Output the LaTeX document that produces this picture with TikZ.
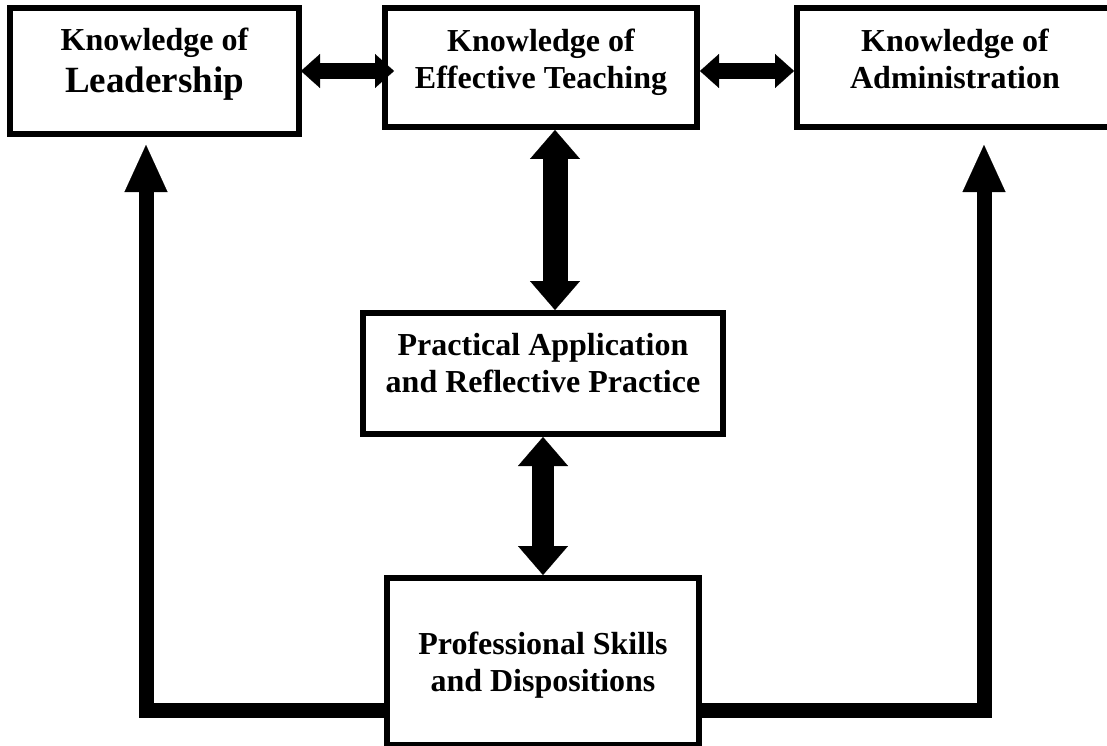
\documentclass[tikz,border=0pt]{standalone}
\usepackage{fontspec}
\setmainfont{Liberation Serif}
\usepackage{tikz}
\usetikzlibrary{arrows.meta}

\begin{document}
\begin{tikzpicture}[x=1pt,y=1pt,yscale=-1,xscale=1,
  box/.style={draw,line width=6pt,align=center,inner sep=0pt,
    font=\bfseries\fontsize{32}{37}\selectfont},
  flatarrow/.style={line width=16pt,
    {Triangle[width=34pt,length=19pt,line width=0.1pt]}-{Triangle[width=34pt,length=19pt,line width=0.1pt]}},
  tallarrow/.style={line width=#1,
    {Triangle[width=50pt,length=29pt,line width=0.1pt]}-{Triangle[width=50pt,length=29pt,line width=0.1pt]}},
  sideline/.style={line width=15pt,line join=miter,
    -{Triangle[width=43pt,length=47pt,line width=0.1pt]}}]
\useasboundingbox (0,0) rectangle (1107,746);
% boxes
\node [box,minimum width=289pt,minimum height=126pt,text depth=22pt] (lead) at (154.5,71) {Knowledge of\\[5pt]{\fontsize{37}{42}\selectfont Leadership}};
\node [box,minimum width=312pt,minimum height=119pt,text depth=18pt] (teach) at (541,67.5) {Knowledge of\\Effective Teaching};
\node [box,minimum width=316pt,minimum height=119pt,text depth=18pt] (admin) at (955,67.5) {Knowledge of\\Administration};
\node [box,minimum width=360pt,minimum height=121pt,text depth=22pt] (pract) at (543,373.5) {Practical Application\\and Reflective Practice};
\node [box,minimum width=312pt,minimum height=167pt,text depth=0pt] (prof) at (543,661.5) {Professional Skills\\and Dispositions};
\coordinate (lcorner) at (146,710);
\coordinate (rcorner) at (984,710);
\coordinate (tcol) at (555,0);
% arrows
\draw [flatarrow,shorten >=-12pt,shorten <=-1pt] (lead.east) -- (lead.east -| teach.west);
\draw [flatarrow] (teach.east |- lead.east) -- (lead.east -| admin.west);
\draw [tallarrow=25pt] (tcol |- teach.south) -- (tcol |- pract.north);
\draw [tallarrow=22pt] (pract.south) -- (prof.north);
\draw [sideline,shorten >=8pt] (prof.west |- lcorner) -- (lcorner) -- (lcorner |- lead.south);
\draw [sideline,shorten >=15pt] (prof.east |- rcorner) -- (rcorner) -- (rcorner |- admin.south);
\end{tikzpicture}
\end{document}
